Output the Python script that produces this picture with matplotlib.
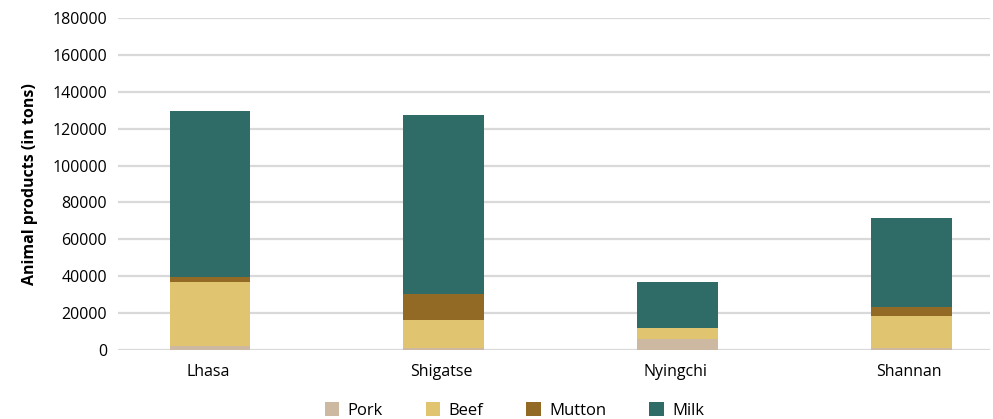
import numpy as np
import matplotlib.pyplot as plt
from matplotlib.patches import Patch

# Regions and tonnage per product
regions = ['Lhasa', 'Shigatse', 'Nyingchi', 'Shannan']
pork = [2000, 1000, 6000, 1000]
beef = [35000, 15300, 6000, 17400]
mutton = [2600, 14100, 0, 4900]
milk = [89900, 97000, 24900, 48200]

series = [('Pork', pork, '#cdb8a1'),
          ('Beef', beef, '#e1c46f'),
          ('Mutton', mutton, '#936a25'),
          ('Milk', milk, '#2f6b67')]

plt.rcParams['font.family'] = ['Open Sans', 'DejaVu Sans']

fig = plt.figure(figsize=(9.93, 4.19), dpi=100)
ax = fig.add_axes([118 / 993, 69 / 419, (990 - 118) / 993, (350 - 18) / 419])

x = np.arange(len(regions))
bottom = np.zeros(len(regions))
for name, vals, color in series:
    ax.bar(x + 0.008, vals, width=0.345, bottom=bottom, color=color, zorder=3)
    bottom += np.array(vals)

ax.set_xlim(-0.385, 3.345)
ax.set_ylim(0, 180000)
ax.set_yticks(np.arange(0, 180001, 20000))
ax.set_xticks(x)
ax.set_xticklabels(regions, fontsize=11.5)
ax.tick_params(axis='y', labelsize=11.5, length=0, pad=8)
ax.tick_params(axis='x', length=0, pad=10)
ax.yaxis.grid(True, color='#d9d9d9', linewidth=1.6, zorder=0)
for s in ax.spines.values():
    s.set_visible(False)
ax.set_ylabel('Animal products (in tons)', fontsize=11.5, fontweight='bold', labelpad=10)

handles = [Patch(facecolor=c, label=n) for n, v, c in series]
fig.legend(handles=handles, loc='lower center', bbox_to_anchor=(0.518, -0.035), ncol=4,
           frameon=False, fontsize=12, handlelength=0.85, handleheight=0.85,
           columnspacing=2.6, handletextpad=0.5)

fig.savefig('out.png', dpi=100)
